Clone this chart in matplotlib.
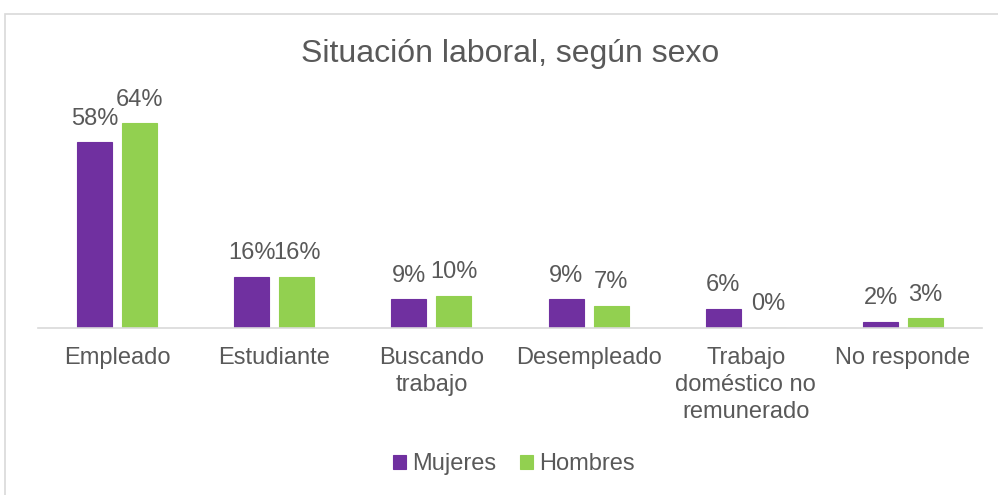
import matplotlib
matplotlib.use("Agg")
import matplotlib.pyplot as plt
from matplotlib.patches import Rectangle
import numpy as np

plt.rcParams['font.family'] = ['Liberation Sans', 'DejaVu Sans']

categories = ["Empleado", "Estudiante", "Buscando\ntrabajo", "Desempleado",
              "Trabajo\ndoméstico no\nremunerado", "No responde"]
mujeres = [58, 16, 9, 9, 6, 2]
hombres = [64, 16, 10, 7, 0, 3]
series_names = ["Mujeres", "Hombres"]
colors = ["#7030A0", "#92D050"]
title = "Situación laboral, según sexo"

txt = "#595959"
fig = plt.figure(figsize=(9.98, 4.95), dpi=100)
ax = fig.add_axes([38.4/998, 1-328/495, (981.6-38.4)/998, 224/495])

x = np.arange(len(categories))
w = 0.223
off = 0.143
for vals, c, name, sgn in [(mujeres, colors[0], series_names[0], -1),
                           (hombres, colors[1], series_names[1], 1)]:
    bars = ax.bar(x + sgn*off, vals, width=w, color=c, edgecolor=c, linewidth=0.8, label=name)
    for b, v in zip(bars, vals):
        ax.annotate(f"{v}%", (b.get_x()+b.get_width()/2, v), xytext=(0, 9),
                    textcoords="offset points", ha="center", va="bottom",
                    fontsize=17, color=txt)

ax.set_xlim(-0.5, len(categories)-0.5)
ax.set_ylim(0, 70)
ax.set_yticks([])
for s in ["top", "right", "left"]:
    ax.spines[s].set_visible(False)
ax.spines["bottom"].set_color("#D9D9D9")
ax.spines["bottom"].set_linewidth(1.2)
ax.set_xticks(x)
ax.set_xticklabels(categories, fontsize=17, color=txt, linespacing=1.28, va="top")
ax.tick_params(axis="x", length=0, pad=14)
ax.patch.set_visible(False)

fig.text(510/998, 1-54/495, title, ha="center", va="center", fontsize=23, color=txt)

leg = fig.legend(loc="center", bbox_to_anchor=(514/998, 1-464/495), ncol=2, frameon=False,
                 fontsize=17, handlelength=0.55, handleheight=0.55, handletextpad=0.25,
                 columnspacing=1.0, labelcolor=txt)

fig.patches.append(Rectangle((4.5/998, -0.1), 1.2, 1-13.5/495+0.1, transform=fig.transFigure,
                             fill=False, edgecolor="#D9D9D9", linewidth=1.2, clip_on=False))

fig.savefig("out.png", dpi=100, facecolor="white")
